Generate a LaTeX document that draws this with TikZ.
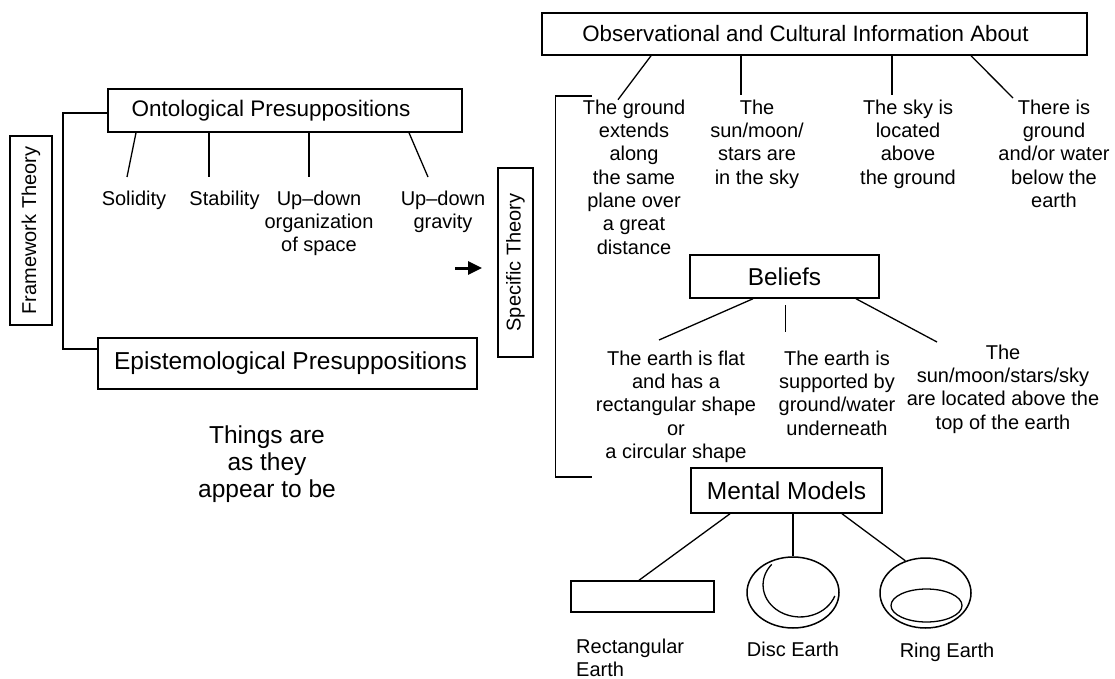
\documentclass[tikz,border=0pt]{standalone}
\usepackage{fontspec}
\setmainfont{Liberation Sans}
\usetikzlibrary{shapes.geometric,arrows.meta,calc}

\begin{document}
\begin{tikzpicture}[x=1pt,y=-1pt,
  box/.style={draw,line width=1.5pt,inner sep=0pt},
  link/.style={line width=1.3pt},
  small/.style={font=\fontsize{20}{23.3}\selectfont,align=center,inner sep=0pt,anchor=north},
  earthshape/.style={draw,line width=1.5pt,inner sep=0pt}]
\fill[white] (0,0) rectangle (1115,679);
\useasboundingbox (0,0) rectangle (1115,679);

% ---------- framework theory ----------
\node[box,rotate=90,minimum width=189,minimum height=42,font=\fontsize{20}{24}\selectfont] (frame) at (31,230.5) {Framework Theory};
\node[box,minimum width=354,minimum height=43,font=\fontsize{22.5}{27}\selectfont] (onto) at (285,110.5) {Ontological Presuppositions\kern28pt};
\node[box,minimum width=379,minimum height=51,font=\fontsize{24.5}{29}\selectfont] (epis) at (287.5,363.5) {Epistemological Presuppositions\kern-6pt};
\draw[line width=1.5pt] (onto.west |- 0,113) -| (63,349) -- (epis.west |- 0,349);

\node[small] (sol) at (134,190.7) {Solidity};
\node[small] (stab) at (224.5,190.7) {Stability};
\node[small] (org) at (319,190.7) {Up–down\\organization\\of space};
\node[small] (grav) at (443,190.7) {Up–down\\gravity};
\draw[link] (onto.south -| 136,0) -- ($(sol.north)+(-7,-13.7)$);
\draw[link] (onto.south -| 209,0) -- ($(stab.north)+(-15.5,-13.7)$);
\draw[link] (onto.south -| 309,0) -- ($(org.north)+(-10,-13.7)$);
\draw[link] (onto.south -| 409,0) -- ($(grav.north)+(-15,-13.7)$);

\node[font=\fontsize{24.5}{27}\selectfont,align=center,inner sep=0pt,anchor=north] (things) at (267,425.5) {Things are\\as they\\appear to be};

% ---------- arrow to the specific theory ----------
\coordinate (arrS) at (455,268);
\coordinate (arrE) at (482,268);
\draw[line width=3pt,-{Triangle[length=14pt,width=13pt]}] (arrS) -- (arrE);

% ---------- specific theory ----------
\node[box,rotate=90,minimum width=189,minimum height=35,font=\fontsize{20}{24}\selectfont] (spec) at (515.5,262.5) {Specific Theory};
\coordinate (brT) at (592,96);
\coordinate (brB) at (592,477);
\draw[line width=1.5pt] (brT) -| (555.5,477) -- (brB);

\node[box,minimum width=545,minimum height=42,font=\fontsize{22.3}{26}\selectfont] (obs) at (814.5,34) {Observational and Cultural Information About\kern18pt};
\node[small] (o1) at (634,99.7) {The ground\\extends\\along\\the same\\plane over\\a great\\distance};
\node[small] (o2) at (757,99.7) {The\\sun/moon/\\stars are\\in the sky};
\node[small] (o3) at (908,99.7) {The sky is\\located\\above\\the ground};
\node[small] (o4) at (1054,99.7) {There is\\ground\\and/or water\\below the\\earth};
\draw[link] (obs.south -| 651,0) -- ($(o1.north)+(-16,0)$);
\draw[link] (obs.south -| 741,0) -- ($(o2.north)+(-16,-4.7)$);
\draw[link] (obs.south -| 892,0) -- ($(o3.north)+(-16,-4.7)$);
\draw[link] (obs.south -| 971,0) -- ($(o4.north)+(-41,-1.7)$);

\node[box,minimum width=189,minimum height=43,font=\fontsize{24.4}{28}\selectfont] (bel) at (784.5,276.5) {Beliefs};
\node[small] (b1) at (676,350.7) {The earth is flat\\and has a\\rectangular shape\\or\\a circular shape};
\node[small] (b2) at (837,350.7) {The earth is\\supported by\\ground/water\\underneath};
\node[small] (b3) at (1003,344.7) {The\\sun/moon/stars/sky\\are located above the\\top of the earth};
\draw[link] (bel.south -| 753,0) -- ($(b1.north)+(-17,-10.7)$);
\draw[link] ($(b2.north)+(-51.5,-45.7)$) -- ($(b2.north)+(-51.5,-18.7)$);
\draw[link] (bel.south -| 856,0) -- ($(b3.north)+(-66,-2.7)$);

% ---------- mental models ----------
\node[box,minimum width=191,minimum height=45,font=\fontsize{24.5}{28}\selectfont] (mm) at (786.5,490.5) {Mental Models};
\node[earthshape,minimum width=143,minimum height=31] (rect) at (642.5,596.5) {};
\node[earthshape,ellipse,minimum width=92,minimum height=71] (disc) at (793,592.5) {};
\node[earthshape,ellipse,minimum width=91,minimum height=70] (ring) at (925.5,593) {};
\node[earthshape,ellipse,line width=1.3pt,minimum width=71,minimum height=33] (hole) at (926.5,605.5) {};
\draw[line width=1.3pt] ($(disc.center)+(-21.3,-28.1)$) arc[start angle=-140,end angle=-340,x radius=37,y radius=32];
\draw[link] (mm.south -| 730,0) -- (rect.north -| 639,0);
\draw[link] (mm.south -| disc.north) -- (disc.north);
\draw[link] (mm.south -| 842,0) -- (ring.122);

\node[small,anchor=north west,align=left] (rlab) at (576,638.5) {Rectangular\\Earth};
\node[small] (dlab) at (793,641.7) {Disc Earth};
\node[small] (glab) at (947,642.7) {Ring Earth};
\end{tikzpicture}
\end{document}
